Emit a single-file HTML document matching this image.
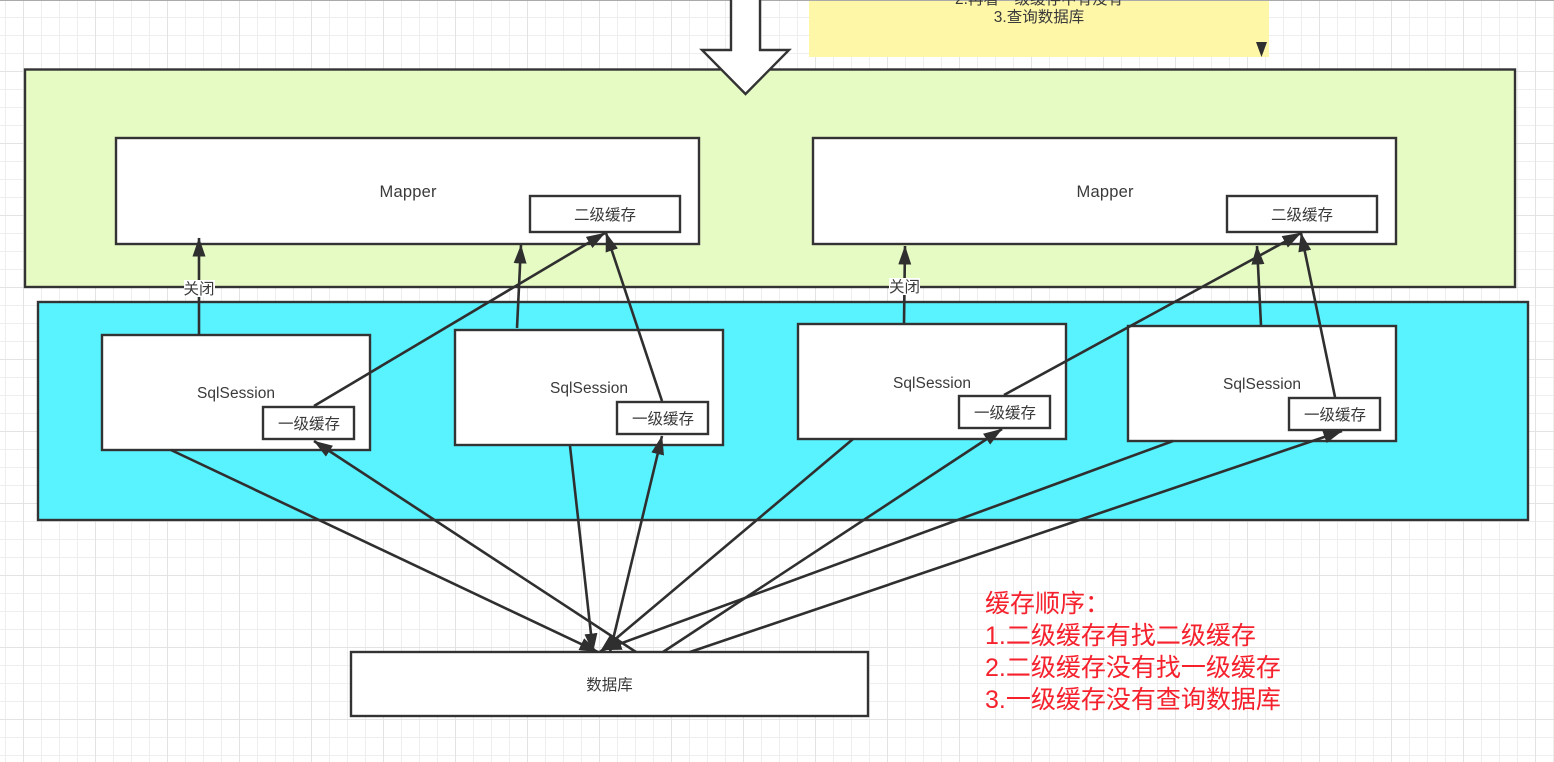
<!DOCTYPE html>
<html><head><meta charset="utf-8"><style>
html,body{margin:0;padding:0;background:#fff;width:1554px;height:762px;overflow:hidden}
svg{display:block}
text{font-family:"Liberation Sans","Noto Sans CJK SC",sans-serif;fill:#3a3a3a;text-anchor:middle}
.b{fill:#fff;stroke:#333;stroke-width:2.4}
.l{stroke:#2f2f2f;stroke-width:2.6;fill:none;marker-end:url(#a)}
.s{font-size:15.5px}
.m{font-size:16.5px}
.r{font-size:25px;fill:#f5212d;text-anchor:start}
</style></head><body>
<svg width="1554" height="762" viewBox="0 0 1554 762" xmlns="http://www.w3.org/2000/svg">
<defs>
<pattern id="g" width="18" height="18" patternUnits="userSpaceOnUse" x="-3.5" y="8.5"><path d="M9 0V18M0 9H18" fill="none" stroke="#eeeeee" stroke-width="1"/></pattern>
<pattern id="G" width="72" height="72" patternUnits="userSpaceOnUse" x="59.5" y="35.5"><path d="M36 0V72M0 36H72" fill="none" stroke="#e3e3e3" stroke-width="1"/></pattern>
<marker id="a" markerUnits="userSpaceOnUse" markerWidth="19" markerHeight="13" refX="18.5" refY="6.5" viewBox="0 0 19 13" orient="auto"><path d="M0 0L19 6.500L0 13z" fill="#2f2f2f"/></marker>
</defs>
<rect width="1554" height="762" fill="#fff"/>
<rect width="1554" height="762" fill="url(#g)"/>
<rect width="1554" height="762" fill="url(#G)"/>
<rect x="0" y="0" width="1554" height="1" fill="#aaa"/>

<rect x="809" y="1" width="460" height="56" fill="#fff7a8"/>
<text x="1039" y="4" class="s">2.再看一级缓存中有没有</text>
<text x="1039" y="22" class="s">3.查询数据库</text>
<path d="M1256 42H1267L1261.500 57z" fill="#2f2f2f"/>

<rect x="25" y="69.500" width="1490" height="217.500" fill="#e6fac4" stroke="#333" stroke-width="2.400"/>
<rect x="38" y="302" width="1490" height="218" fill="#59f2ff" stroke="#333" stroke-width="2.400"/>

<path d="M731 0V50H702L745.500 94L789 50H760V0" fill="#fff" stroke="#333" stroke-width="2.400"/>

<rect class="b" x="116" y="138" width="583" height="106"/>
<rect class="b" x="813" y="138" width="583" height="106"/>
<rect class="b" x="530" y="196" width="150" height="36"/>
<rect class="b" x="1227" y="196" width="150" height="36"/>
<text x="408" y="197" class="m" textLength="57">Mapper</text>
<text x="1105" y="197" class="m" textLength="57">Mapper</text>
<text x="605" y="220" class="s">二级缓存</text>
<text x="1302" y="220" class="s">二级缓存</text>

<rect class="b" x="102" y="335" width="268" height="115"/>
<rect class="b" x="455" y="330" width="268" height="115"/>
<rect class="b" x="798" y="324" width="268" height="115"/>
<rect class="b" x="1128" y="326" width="268" height="115"/>
<rect class="b" x="263" y="407" width="91" height="32"/>
<rect class="b" x="617" y="402" width="91" height="32"/>
<rect class="b" x="959" y="396" width="91" height="32"/>
<rect class="b" x="1289" y="398" width="91" height="32"/>
<text x="236" y="398" class="s" textLength="78">SqlSession</text>
<text x="589" y="393" class="s" textLength="78">SqlSession</text>
<text x="932" y="388" class="s" textLength="78">SqlSession</text>
<text x="1262" y="389" class="s" textLength="78">SqlSession</text>
<text x="309" y="429" class="s">一级缓存</text>
<text x="663" y="424" class="s">一级缓存</text>
<text x="1005" y="418" class="s">一级缓存</text>
<text x="1335" y="420" class="s">一级缓存</text>

<rect class="b" x="351" y="652" width="517" height="64"/>
<text x="609.500" y="690" class="s">数据库</text>

<line class="l" x1="199" y1="335" x2="199" y2="238"/>
<line class="l" x1="517" y1="328" x2="521" y2="245"/>
<line class="l" x1="314" y1="406" x2="605" y2="233"/>
<line class="l" x1="662" y1="401" x2="606" y2="233"/>
<line class="l" x1="904" y1="323" x2="905" y2="246"/>
<line class="l" x1="1004" y1="395" x2="1301" y2="233"/>
<line class="l" x1="1261" y1="325" x2="1257" y2="246"/>
<line class="l" x1="1335" y1="397" x2="1301" y2="233"/>

<line class="l" x1="171" y1="450" x2="598" y2="652"/>
<line class="l" x1="570" y1="446" x2="593" y2="652"/>
<line class="l" x1="853" y1="439" x2="600" y2="652"/>
<line class="l" x1="1173" y1="441" x2="603" y2="650"/>
<line class="l" x1="636" y1="652" x2="314" y2="441"/>
<line class="l" x1="610" y1="652" x2="662" y2="436"/>
<line class="l" x1="663" y1="652" x2="1002" y2="429"/>
<line class="l" x1="690" y1="652" x2="1342" y2="431"/>

<rect x="184" y="280" width="31" height="17" fill="#fff"/>
<rect x="889" y="278" width="31" height="17" fill="#fff"/>
<text x="199" y="294" class="s">关闭</text>
<text x="904.500" y="292" class="s">关闭</text>

<text x="985" y="612" class="r">缓存顺序：</text>
<text x="985" y="644" class="r">1.二级缓存有找二级缓存</text>
<text x="985" y="676" class="r">2.二级缓存没有找一级缓存</text>
<text x="985" y="708" class="r">3.一级缓存没有查询数据库</text>
</svg>
</body></html>
